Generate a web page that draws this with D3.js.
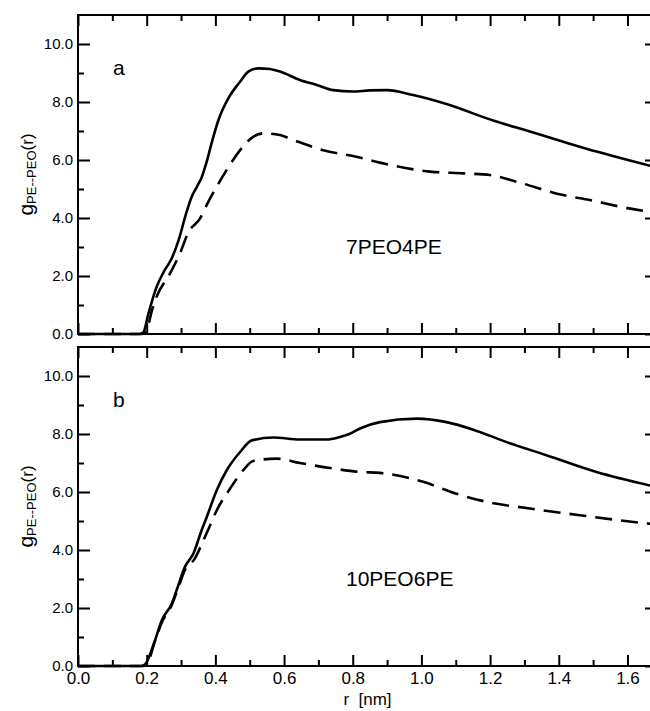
<!DOCTYPE html>
<html>
<head>
<meta charset="utf-8">
<script src="https://cdn.jsdelivr.net/npm/d3@7"></script>
<style>
  html, body { margin: 0; padding: 0; background: #fff; }
  svg { display: block; font-family: "Liberation Sans", Arial, Helvetica, sans-serif; }
  .tick line { stroke: #000; stroke-width: 2; }
  .domain { display: none; }
</style>
</head>
<body>
<svg id="chart" width="650" height="711"></svg>
<script>
// ── Data (r in nm, g dimensionless) ─────────────────────────────────
const A_SOLID_R = [0, 0.18, 0.19, 0.205, 0.229, 0.25, 0.273, 0.292, 0.316, 0.33, 0.345, 0.36, 0.375, 0.389, 0.409, 0.438, 0.472, 0.496, 0.525, 0.559, 0.588, 0.646, 0.695, 0.743, 0.80, 0.85, 0.899, 0.976, 1.073, 1.209, 1.316, 1.413, 1.51, 1.607, 1.686];
const A_SOLID_G = [0, 0, 0.05, 0.7, 1.63, 2.15, 2.61, 3.2, 4.2, 4.7, 5.05, 5.4, 5.95, 6.58, 7.38, 8.13, 8.70, 9.05, 9.16, 9.14, 9.05, 8.76, 8.59, 8.41, 8.36, 8.40, 8.41, 8.24, 7.93, 7.36, 6.98, 6.63, 6.29, 5.98, 5.74];

const A_DASH_R = [0, 0.185, 0.2, 0.215, 0.229, 0.268, 0.297, 0.321, 0.355, 0.379, 0.40, 0.433, 0.472, 0.51, 0.54, 0.588, 0.627, 0.714, 0.811, 0.879, 1.025, 1.122, 1.2, 1.277, 1.413, 1.49, 1.6, 1.686];
const A_DASH_G = [0, 0, 0.14, 0.8, 1.29, 2.09, 2.78, 3.5, 3.98, 4.55, 5.0, 5.66, 6.34, 6.80, 6.92, 6.86, 6.69, 6.34, 6.11, 5.91, 5.60, 5.54, 5.48, 5.25, 4.79, 4.62, 4.34, 4.18];

const B_SOLID_R = [0, 0.185, 0.195, 0.224, 0.244, 0.273, 0.292, 0.311, 0.336, 0.36, 0.375, 0.404, 0.433, 0.472, 0.506, 0.569, 0.646, 0.724, 0.763, 0.792, 0.821, 0.879, 0.986, 1.073, 1.151, 1.248, 1.364, 1.51, 1.686];
const B_SOLID_G = [0, 0, 0.05, 0.88, 1.58, 2.15, 2.78, 3.41, 3.88, 4.68, 5.14, 6.06, 6.75, 7.38, 7.78, 7.88, 7.81, 7.81, 7.90, 8.01, 8.19, 8.41, 8.53, 8.41, 8.15, 7.72, 7.27, 6.69, 6.17];

const B_DASH_R = [0, 0.19, 0.2, 0.224, 0.244, 0.273, 0.292, 0.311, 0.34, 0.365, 0.379, 0.404, 0.443, 0.481, 0.51, 0.578, 0.646, 0.743, 0.821, 0.879, 1.005, 1.102, 1.19, 1.316, 1.461, 1.646, 1.686];
const B_DASH_G = [0, 0, 0.05, 0.85, 1.5, 2.1, 2.7, 3.3, 3.7, 4.33, 4.7, 5.37, 6.12, 6.75, 7.07, 7.15, 7.00, 6.81, 6.69, 6.66, 6.35, 5.94, 5.66, 5.43, 5.20, 4.93, 4.88];

const X_MAJOR = [0, 0.2, 0.4, 0.6, 0.8, 1.0, 1.2, 1.4, 1.6];
const X_MINOR = [0.1, 0.3, 0.5, 0.7, 0.9, 1.1, 1.3, 1.5];
const Y_MAJOR = [0, 2, 4, 6, 8, 10];
const Y_MINOR = [1, 3, 5, 7, 9];

const PANELS = [
  { tag: "a", name: "7PEO4PE",  top: 15,  bottom: 334, solid: [A_SOLID_R, A_SOLID_G], dash: [A_DASH_R, A_DASH_G], last: false },
  { tag: "b", name: "10PEO6PE", top: 347, bottom: 666, solid: [B_SOLID_R, B_SOLID_G], dash: [B_DASH_R, B_DASH_G], last: true }
];

// ── Setup ────────────────────────────────────────────────────────────
const svg = d3.select("#chart");
const left = 78, right = 657;

const x = d3.scaleLinear().domain([0, 1.686]).range([left, right]);
const fmt = d3.format(".1f");

const zip = (rs, gs) => rs.map((r, i) => [r, gs[i]]);

PANELS.forEach(p => {
  const y = d3.scaleLinear().domain([0, 11]).range([p.bottom, p.top]);
  const g = svg.append("g");

  const line = d3.line()
    .x(d => x(d[0]))
    .y(d => y(d[1]))
    .curve(d3.curveMonotoneX);

  // curves
  g.append("path")
    .datum(zip(p.solid[0], p.solid[1]))
    .attr("fill", "none").attr("stroke", "#000")
    .attr("stroke-width", 2.6).attr("stroke-linejoin", "round")
    .attr("d", line);

  g.append("path")
    .datum(zip(p.dash[0], p.dash[1]))
    .attr("fill", "none").attr("stroke", "#000")
    .attr("stroke-width", 2.6).attr("stroke-dasharray", "17,9")
    .attr("d", line);

  // ticks – left (labelled) and right
  g.append("g").attr("transform", `translate(${left},0)`)
    .call(d3.axisLeft(y).tickValues(Y_MAJOR).tickSize(-12).tickPadding(5).tickFormat(fmt))
    .call(a => a.selectAll("text").attr("font-size", 15).attr("fill", "#000").attr("font-family", null));
  g.append("g").attr("transform", `translate(${left},0)`)
    .call(d3.axisLeft(y).tickValues(Y_MINOR).tickSize(-6).tickFormat(""));
  g.append("g").attr("transform", `translate(${right},0)`)
    .call(d3.axisRight(y).tickValues(Y_MAJOR).tickSize(-12).tickFormat(""));
  g.append("g").attr("transform", `translate(${right},0)`)
    .call(d3.axisRight(y).tickValues(Y_MINOR).tickSize(-6).tickFormat(""));

  // ticks – top and bottom
  g.append("g").attr("transform", `translate(0,${p.top})`)
    .call(d3.axisTop(x).tickValues(X_MAJOR).tickSize(-11).tickFormat(""));
  g.append("g").attr("transform", `translate(0,${p.top})`)
    .call(d3.axisTop(x).tickValues(X_MINOR).tickSize(-6).tickFormat(""));
  const bx = g.append("g").attr("transform", `translate(0,${p.bottom})`)
    .call(d3.axisBottom(x).tickValues(X_MAJOR).tickSize(-11).tickPadding(6)
      .tickFormat(p.last ? fmt : ""));
  bx.selectAll("text").attr("font-size", 17).attr("fill", "#000").attr("font-family", null);
  g.append("g").attr("transform", `translate(0,${p.bottom})`)
    .call(d3.axisBottom(x).tickValues(X_MINOR).tickSize(-6).tickFormat(""));

  // frame
  g.append("rect")
    .attr("x", left).attr("y", p.top)
    .attr("width", right - left).attr("height", p.bottom - p.top)
    .attr("fill", "none").attr("stroke", "#000").attr("stroke-width", 2);

  // panel letter and system name
  g.append("text").attr("x", 113).attr("y", p.top + 60)
    .attr("font-size", 21).text(p.tag);
  g.append("text").attr("x", 346).attr("y", p.top + 239)
    .attr("font-size", 21).text(p.name);

  // y label
  const cy = (p.top + p.bottom) / 2;
  const yl = g.append("text")
    .attr("transform", `translate(33,${cy}) rotate(-90)`)
    .attr("text-anchor", "middle");
  yl.append("tspan").attr("font-size", 21).text("g");
  yl.append("tspan").attr("font-size", 13).attr("dy", 3).text("PE--PEO");
  yl.append("tspan").attr("font-size", 17).attr("dy", -3).text("(r)");
});

// x label
svg.append("text")
  .attr("x", (left + right) / 2).attr("y", 705)
  .attr("text-anchor", "middle").attr("font-size", 17)
  .style("white-space", "pre")
  .text("r  [nm]");
</script>
</body>
</html>
